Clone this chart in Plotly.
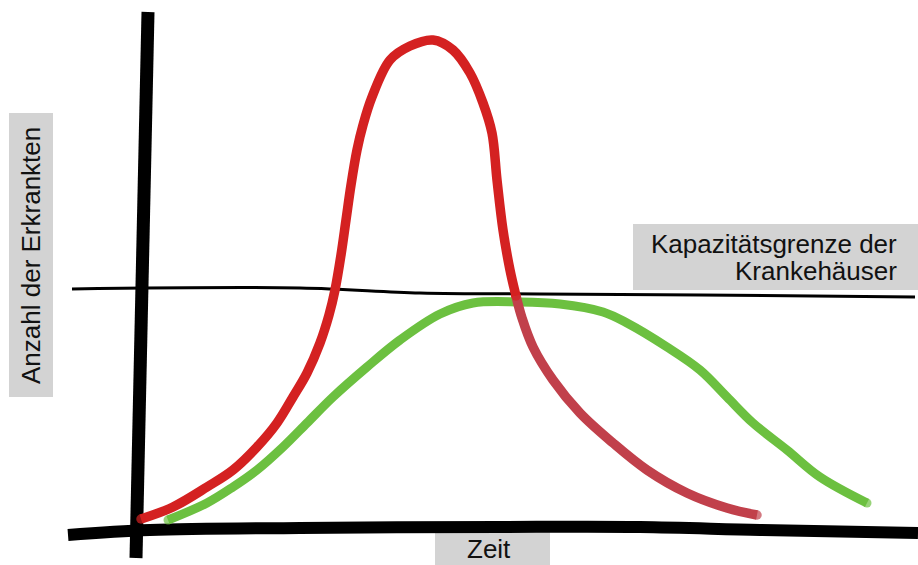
import plotly.graph_objects as go

W, H = 918, 565
# Origin of the sketch (where the curves start), in picture pixels
X0, Y0 = 143, 521

# ---- data (time units, patient counts) ----
red_up_time = [-2, 30, 64, 90, 114, 134, 150, 164, 177, 186, 192, 198, 203, 208, 214, 220, 229, 247, 267, 290, 310, 327, 340, 349, 354, 360, 367, 373]
red_up_count = [2, 14, 34, 51, 74, 98, 124, 148, 178, 206, 231, 266, 301, 336, 371, 396, 424, 461, 475, 481, 471, 448, 418, 388, 341, 291, 251, 225]

red_down_time = [373, 379, 390, 410, 437, 470, 504, 544, 584, 614]
red_down_count = [225, 203, 174, 141, 108, 78, 51, 28, 13, 6]

green_time = [25, 64, 90, 114, 140, 164, 190, 224, 257, 297, 330, 377, 417, 460, 484, 524, 557, 584, 610, 644, 677, 724]
green_count = [1, 18, 34, 51, 74, 98, 124, 154, 181, 207, 218, 219, 217, 209, 198, 174, 151, 124, 98, 71, 44, 18]

capacity_time = [-71, 157, 277, 397, 557, 772]
capacity_count = [232, 233, 228, 227, 226, 224]

xaxis_time = [-75, 7, 157, 357, 497, 617, 775]
xaxis_count = [-14, -9, -7, -6, -6, -9, -12]

yaxis_time = [5, -7]
yaxis_count = [509, -37]

label_capacity = ["Kapazitätsgrenze der", "Krankehäuser"]
label_y = "Anzahl der Erkrankten"
label_x = "Zeit"

RED = "#d42121"
RED_MUTED = "#c1404b"
GREEN = "#6cc040"
BOX = "#d3d3d3"
FONT = "Liberation Sans, Arial, Helvetica, sans-serif"


def caps(n, size):
    return [size] + [0] * (n - 2) + [size]


fig = go.Figure()

# hand-drawn axes
fig.add_trace(go.Scatter(x=yaxis_time, y=yaxis_count, mode="lines",
                         line=dict(color="black", width=13), hoverinfo="skip"))
fig.add_trace(go.Scatter(x=xaxis_time, y=xaxis_count, mode="lines", line_shape="spline",
                         line=dict(color="black", width=12), hoverinfo="skip"))

# capacity limit
fig.add_trace(go.Scatter(x=capacity_time, y=capacity_count, mode="lines", line_shape="spline",
                         line=dict(color="black", width=3), hoverinfo="skip"))

# green (flattened) curve
fig.add_trace(go.Scatter(x=green_time, y=green_count, mode="lines+markers", line_shape="spline",
                         line=dict(color=GREEN, width=9),
                         marker=dict(color=GREEN, size=caps(len(green_time), 9), line=dict(width=0)),
                         hoverinfo="skip"))

# red curve below capacity (descending part)
fig.add_trace(go.Scatter(x=red_down_time, y=red_down_count, mode="lines+markers", line_shape="spline",
                         line=dict(color=RED_MUTED, width=9.5),
                         marker=dict(color=RED_MUTED, size=caps(len(red_down_time), 9.5), line=dict(width=0)),
                         hoverinfo="skip"))

# red curve (peak)
fig.add_trace(go.Scatter(x=red_up_time, y=red_up_count, mode="lines+markers", line_shape="spline",
                         line=dict(color=RED, width=9.5),
                         marker=dict(color=RED, size=caps(len(red_up_time), 9.5), line=dict(width=0)),
                         hoverinfo="skip"))


def px(x):
    return x / W


def py(y):
    return 1 - y / H


shapes = [
    dict(type="rect", xref="paper", yref="paper", x0=px(633), x1=px(918), y0=py(290), y1=py(224),
         fillcolor=BOX, line=dict(width=0), layer="below"),
    dict(type="rect", xref="paper", yref="paper", x0=px(9), x1=px(53), y0=py(397), y1=py(113),
         fillcolor=BOX, line=dict(width=0), layer="below"),
    dict(type="rect", xref="paper", yref="paper", x0=px(435), x1=px(550), y0=py(565), y1=py(531),
         fillcolor=BOX, line=dict(width=0), layer="below"),
]

annotations = [
    dict(text=label_capacity[0], xref="paper", yref="paper", x=px(899), y=py(244),
         xanchor="right", yanchor="middle", showarrow=False, font=dict(family=FONT, size=26, color="#111")),
    dict(text=label_capacity[1], xref="paper", yref="paper", x=px(899), y=py(271),
         xanchor="right", yanchor="middle", showarrow=False, font=dict(family=FONT, size=26, color="#111")),
    dict(text=label_y, xref="paper", yref="paper", x=px(31), y=py(256), textangle=-90,
         xanchor="center", yanchor="middle", showarrow=False, font=dict(family=FONT, size=26, color="#111")),
    dict(text=label_x, xref="paper", yref="paper", x=px(489), y=py(549),
         xanchor="center", yanchor="middle", showarrow=False, font=dict(family=FONT, size=26, color="#111")),
]

fig.update_layout(
    width=W, height=H,
    margin=dict(l=0, r=0, t=0, b=0),
    paper_bgcolor="white", plot_bgcolor="white",
    showlegend=False,
    xaxis=dict(range=[-X0, W - X0], visible=False, fixedrange=True),
    yaxis=dict(range=[Y0 - H, Y0], visible=False, fixedrange=True),
    shapes=shapes,
    annotations=annotations,
)

fig.write_html("out.html", config=dict(displayModeBar=False),
               post_script="document.body.style.margin='0';document.body.style.overflow='hidden';")
